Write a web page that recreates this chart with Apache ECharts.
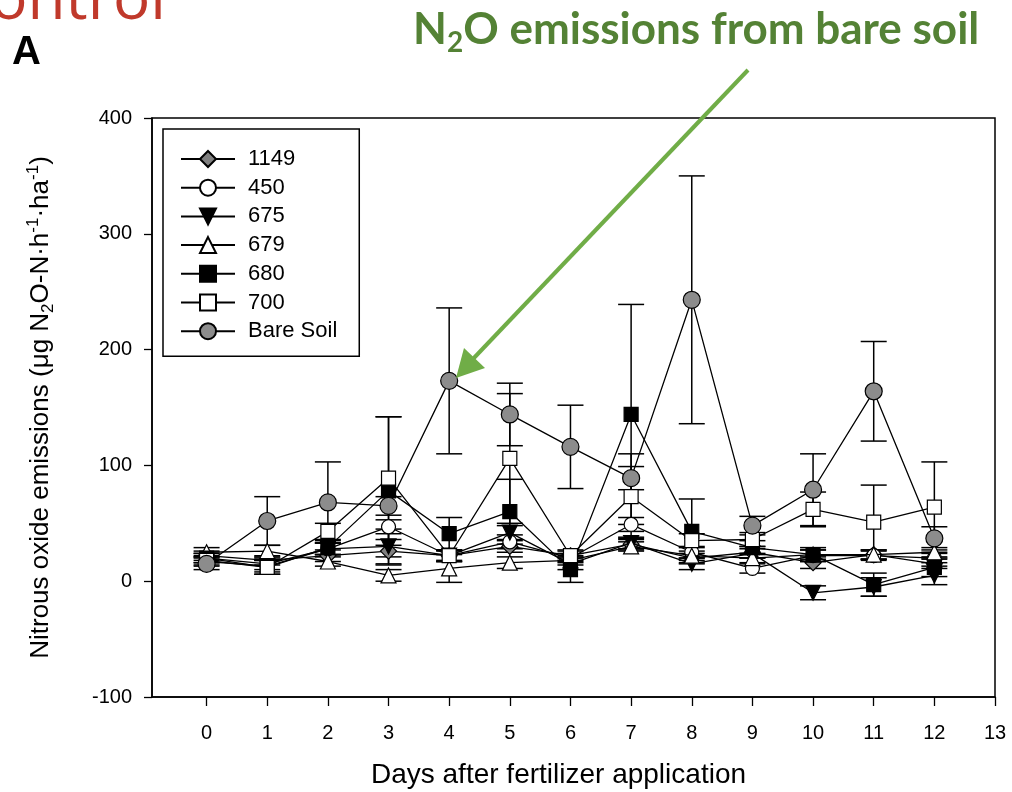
<!DOCTYPE html>
<html>
<head>
<meta charset="utf-8">
<script src="https://cdn.jsdelivr.net/npm/echarts@6/dist/echarts.min.js"></script>
<style>
  html, body { margin: 0; padding: 0; background: #fff; }
  #chart { width: 1012px; height: 792px; }
</style>
</head>
<body>
<div id="chart"></div>
<script>
// days after fertilizer application
const days = [0, 1, 2, 3, 4, 5, 6, 7, 8, 9, 10, 11, 12];
const xTicks = [0, 1, 2, 3, 4, 5, 6, 7, 8, 9, 10, 11, 12, 13];

// mean N2O flux per treatment and its error
const v1149 = [22, 18, 22, 26, 22, 30, 22, 32, 20, 25, 16, 23, 15];
const e1149 = [4, 4, 5, 5, 4, 5, 4, 5, 4, 5, 5, 4, 4];
const v450 = [20, 15, 28, 47, 22, 34, 20, 49, 25, 11, 22, 22, 20];
const e450 = [4, 5, 5, 6, 5, 6, 4, 6, 5, 4, 5, 4, 4];
const v675 = [17, 13, 28, 30, 22, 42, 15, 33, 15, 24, -10, -5, 5];
const e675 = [4, 5, 5, 15, 5, 6, 5, 5, 5, 4, 6, 8, 8];
const v679 = [25, 26, 17, 5, 11, 16, 18, 30, 22, 20, 23, 23, 25];
const e679 = [4, 5, 4, 5, 12, 5, 4, 4, 4, 4, 4, 4, 4];
const v680 = [20, 12, 29, 78, 41, 60, 10, 144, 43, 29, 23, -3, 12];
const e680 = [4, 6, 6, 64, 14, 28, 11, 95, 28, 6, 6, 10, 8];
const v700 = [18, 12, 43, 89, 22, 106, 22, 73, 35, 36, 62, 51, 64];
const e700 = [4, 6, 7, 53, 5, 56, 5, 37, 6, 6, 15, 32, 39];
const vBare = [15, 52, 68, 65, 173, 144, 116, 89, 243, 48, 79, 164, 37];
const eBare = [5, 21, 35, 8, 63, 27, 36, 10, 107, 8, 31, 43, 10];

const FONT = '"Liberation Sans", Arial, sans-serif';

const treatments = [
  { name: '1149', vals: v1149, errs: e1149, symbol: 'diamond', size: 16, fill: '#808080', rotate: 0 },
  { name: '450', vals: v450, errs: e450, symbol: 'circle', size: 14, fill: '#ffffff', rotate: 0 },
  { name: '675', vals: v675, errs: e675, symbol: 'triangle', size: 15, fill: '#000000', rotate: 180 },
  { name: '679', vals: v679, errs: e679, symbol: 'triangle', size: 15, fill: '#ffffff', rotate: 0 },
  { name: '680', vals: v680, errs: e680, symbol: 'rect', size: 14, fill: '#000000', rotate: 0 },
  { name: '700', vals: v700, errs: e700, symbol: 'rect', size: 14, fill: '#ffffff', rotate: 0 },
  { name: 'Bare Soil', vals: vBare, errs: eBare, symbol: 'circle', size: 17, fill: '#8c8c8c', rotate: 0 }
];

const errorBars = (params, api) => {
  const x = api.value(0);
  const y = api.value(1);
  const e = api.value(2);
  const top = api.coord([x, y + e]);
  const bot = api.coord([x, y - e]);
  const cap = 13;
  const st = { stroke: '#000', lineWidth: 1.5 };
  return {
    type: 'group',
    children: [
      { type: 'line', shape: { x1: top[0], y1: top[1], x2: bot[0], y2: bot[1] }, style: st },
      { type: 'line', shape: { x1: top[0] - cap, y1: top[1], x2: top[0] + cap, y2: top[1] }, style: st },
      { type: 'line', shape: { x1: bot[0] - cap, y1: bot[1], x2: bot[0] + cap, y2: bot[1] }, style: st }
    ]
  };
};

const series = [];
treatments.forEach((t) => {
  series.push({
    name: t.name + ' err',
    type: 'custom',
    renderItem: errorBars,
    data: days.map((d, i) => [d, t.vals[i], t.errs[i]]),
    z: 1,
    silent: true
  });
});
treatments.forEach((t, k) => {
  series.push({
    name: t.name,
    type: 'line',
    data: days.map((d, i) => [d, t.vals[i]]),
    symbol: t.symbol,
    symbolSize: t.size,
    symbolRotate: t.rotate,
    showAllSymbol: true,
    lineStyle: { color: '#000', width: 1.3 },
    itemStyle: { color: t.fill, borderColor: '#000', borderWidth: 1.2, opacity: 1 },
    z: 2 + k
  });
});

const chart = echarts.init(document.getElementById('chart'));
chart.setOption({
  animation: false,
  backgroundColor: '#fff',
  textStyle: { fontFamily: FONT },
  grid: {
    left: 152, right: 17, top: 118, bottom: 95,
    outerBoundsMode: 'none',
    containLabel: false,
    show: true, borderColor: '#000', borderWidth: 1.5
  },
  legend: {
    data: treatments.map(t => t.name),
    orient: 'vertical',
    left: 163,
    top: 129,
    padding: [19, 22, 14, 17],
    itemWidth: 54,
    itemHeight: 20,
    itemGap: 6.7,
    borderColor: '#000',
    borderWidth: 1.5,
    backgroundColor: '#fff',
    textStyle: { fontSize: 22, lineHeight: 22, color: '#000', fontFamily: FONT, padding: [0, 0, 0, 8] }
  },
  xAxis: {
    type: 'value',
    min: -0.9,
    max: 13,
    name: 'Days after fertilizer application',
    nameLocation: 'middle',
    nameGap: 64,
    nameTextStyle: { fontSize: 28, color: '#000', fontFamily: FONT, padding: [0, 30, 0, 0] },
    axisLine: { show: true, onZero: false, lineStyle: { color: '#000', width: 1.5 } },
    axisTick: { show: true, length: 9, customValues: xTicks, lineStyle: { color: '#000', width: 1.3 } },
    axisLabel: { customValues: xTicks, fontSize: 20, color: '#000', margin: 26, fontFamily: FONT },
    splitLine: { show: false }
  },
  yAxis: {
    type: 'value',
    min: -100,
    max: 400,
    interval: 100,
    name: '{t|Nitrous oxide emissions (μg N}{sub|2}{t|O-N·h}{sup|-1}{t|·ha}{sup|-1}{t|)}',
    nameLocation: 'middle',
    nameRotate: 90,
    nameGap: 95,
    nameTextStyle: {
      color: '#000',
      rich: {
        t: { fontSize: 26, lineHeight: 32, fontFamily: FONT, color: '#000' },
        sub: { fontSize: 17, lineHeight: 17, verticalAlign: 'bottom', fontFamily: FONT, color: '#000' },
        sup: { fontSize: 17, lineHeight: 17, verticalAlign: 'top', fontFamily: FONT, color: '#000' }
      }
    },
    axisLine: { show: true, onZero: false, lineStyle: { color: '#000', width: 1.5 } },
    axisTick: { show: true, length: 8, lineStyle: { color: '#000', width: 1.3 } },
    axisLabel: { fontSize: 20, color: '#000', margin: 20, fontFamily: FONT },
    splitLine: { show: false }
  },
  graphic: [
    {
      type: 'text', right: 846, top: -30,
      style: { text: 'Control', font: '400 62px "Open Sans", sans-serif', fill: '#c0392b' },
      z: 10
    },
    {
      type: 'text', left: 12, top: 33,
      style: { text: 'A', font: 'bold 40px "Liberation Sans", Arial, sans-serif', fill: '#000' },
      z: 10
    },
    {
      type: 'text', left: 413, top: 8,
      style: {
        text: '{a|N}{s|2}{a|O emissions from bare soil}',
        rich: {
          a: { fontSize: 44, fontWeight: 'bold', fontFamily: 'Lato, "Open Sans", sans-serif', fill: '#548235', lineHeight: 54 },
          s: { fontSize: 28, fontWeight: 'bold', fontFamily: 'Lato, "Open Sans", sans-serif', fill: '#548235', lineHeight: 28, verticalAlign: 'bottom' }
        }
      },
      z: 10
    },
    {
      type: 'line',
      shape: { x1: 748, y1: 70, x2: 472, y2: 360 },
      style: { stroke: '#70ad47', lineWidth: 4 },
      z: 10
    },
    {
      type: 'polygon',
      shape: { points: [[456, 378], [464, 348], [485, 368]] },
      style: { fill: '#70ad47' },
      z: 10
    }
  ],
  series: series
});
</script>
</body>
</html>
